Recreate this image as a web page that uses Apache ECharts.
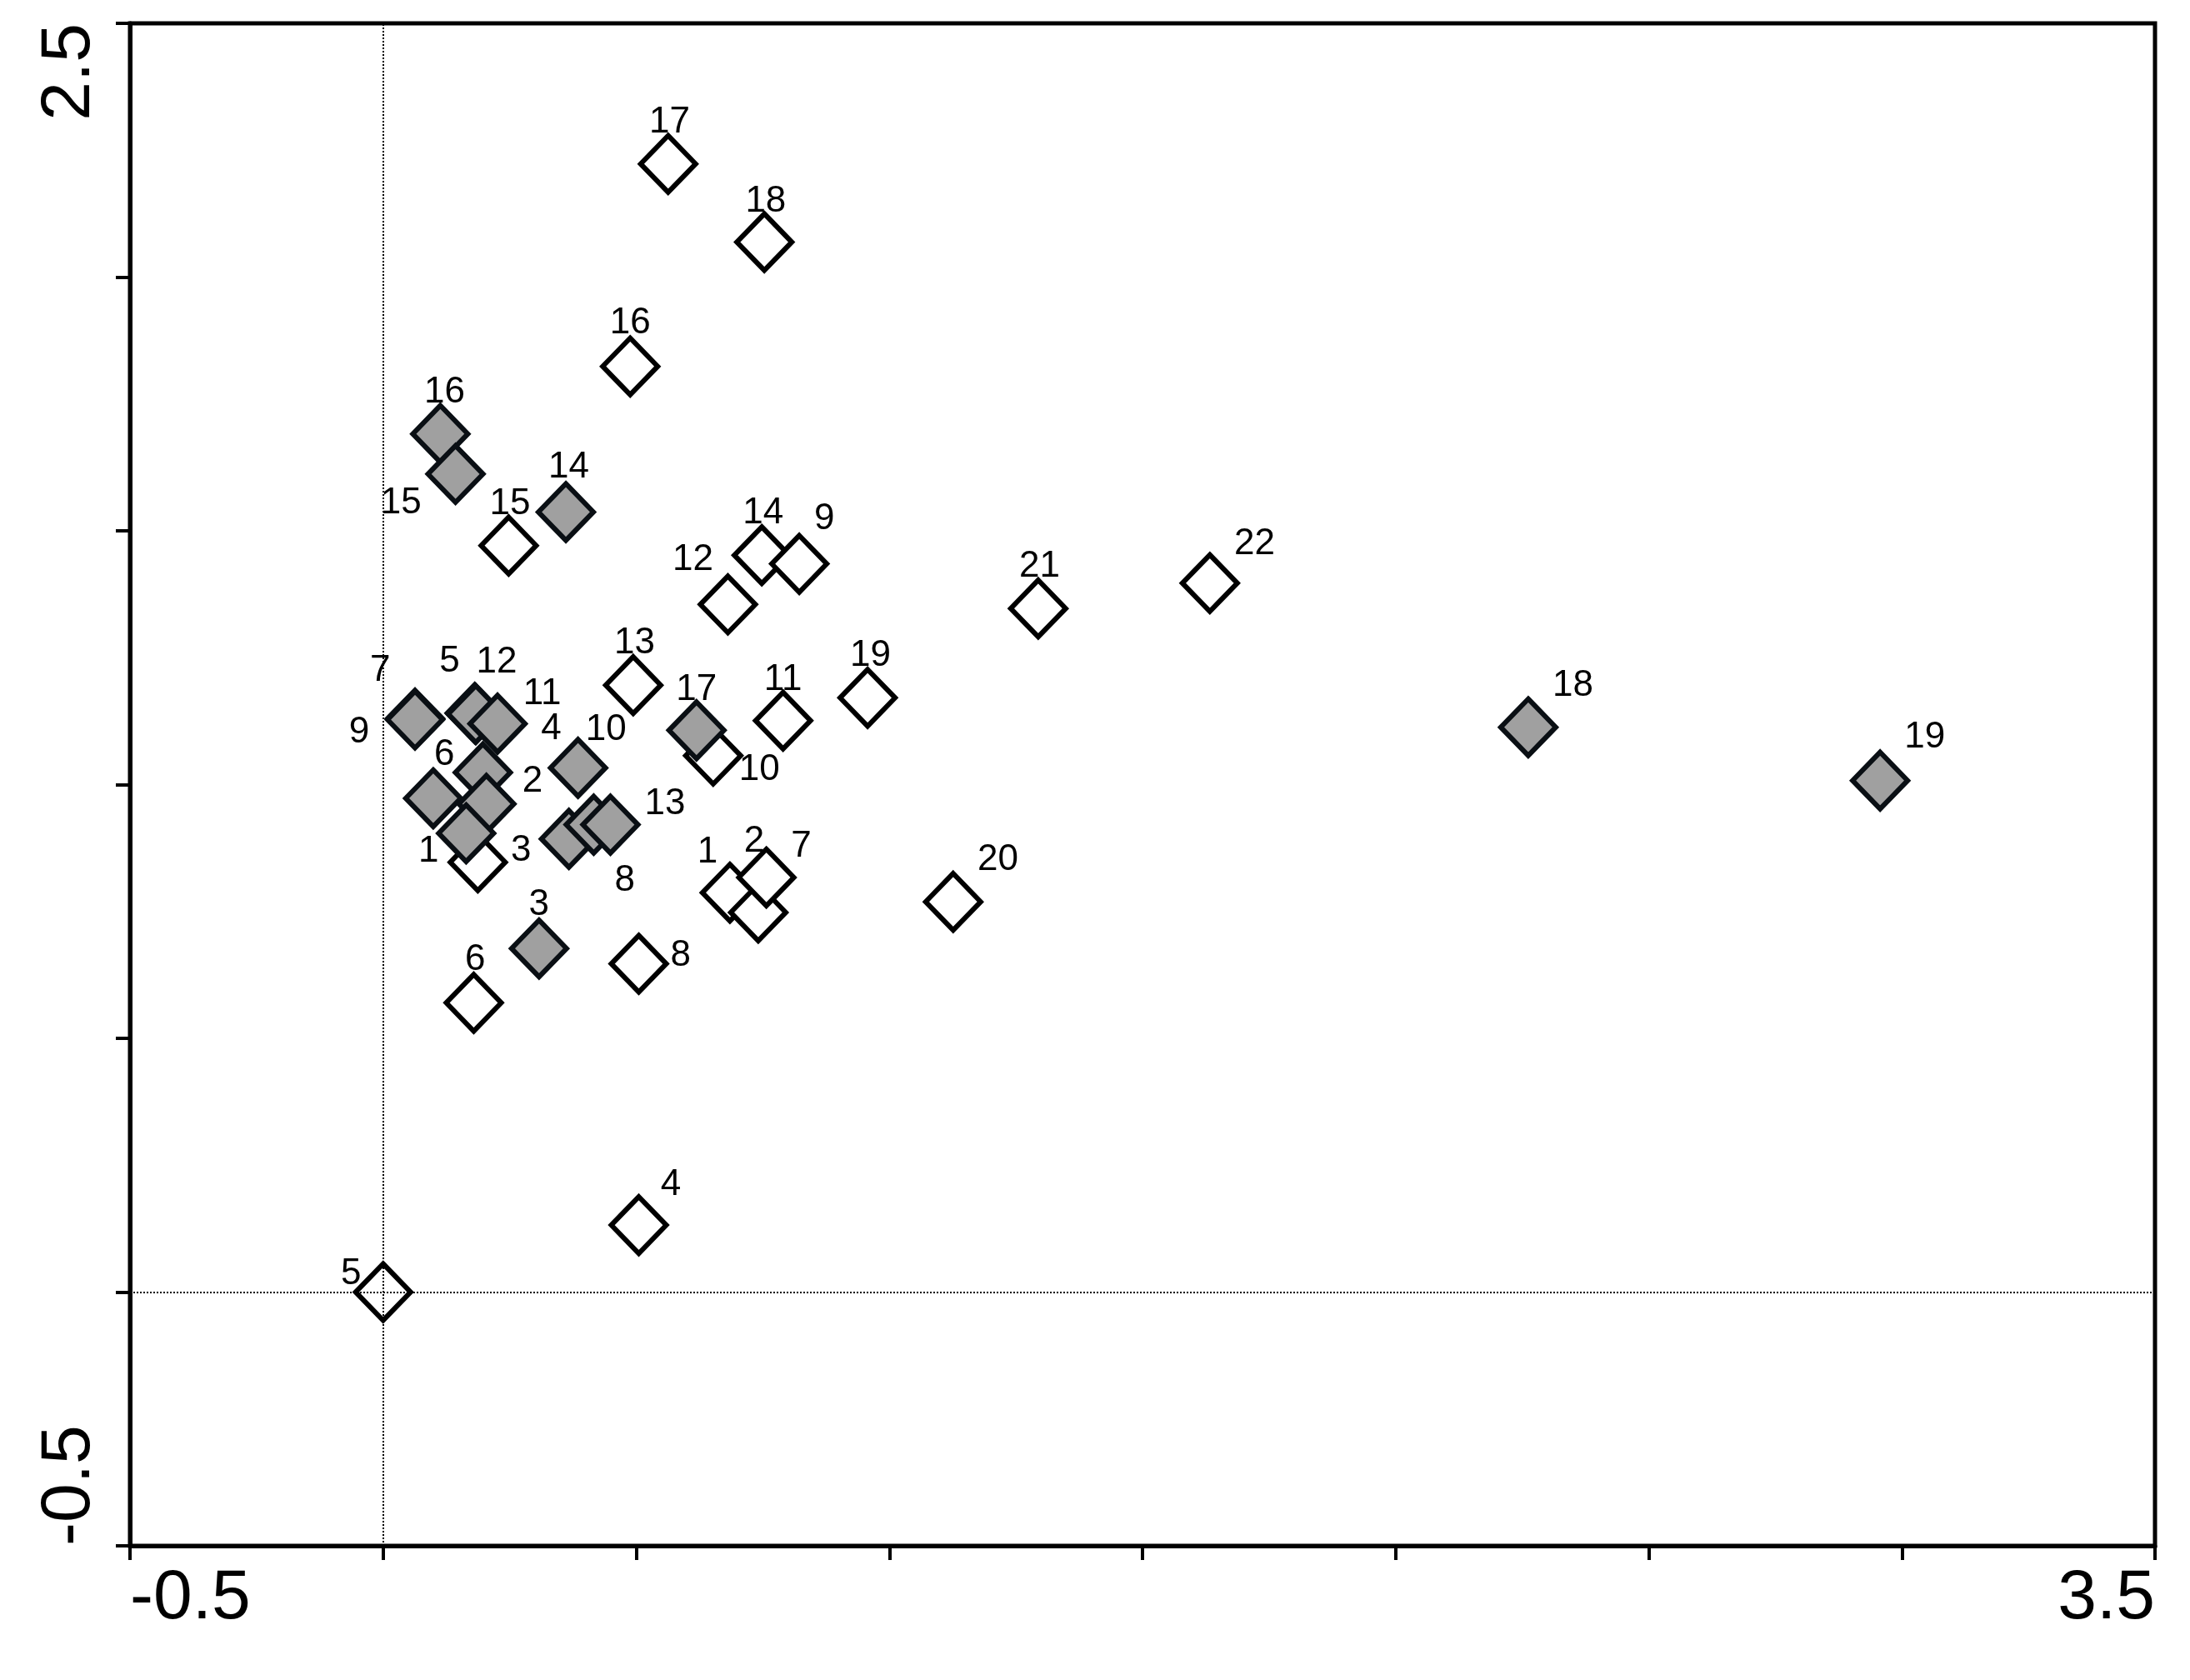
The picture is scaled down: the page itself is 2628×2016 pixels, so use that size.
<!DOCTYPE html>
<html>
<head>
<meta charset="utf-8">
<script src="https://cdn.jsdelivr.net/npm/echarts@6/dist/echarts.min.js"></script>
<style>html,body{margin:0;padding:0;background:#fff}#chart{width:2628px;height:2016px}</style>
</head>
<body>
<div id="chart"></div>
<script>
// open diamonds
var openLabels = ['17','18','16','15','14','9','12','21','22','13','19','11','10','1','2','7','20','8','6','4','5','3'];
var openX = [0.563,0.753,0.488,0.248,0.748,0.822,0.681,1.294,1.633,0.494,0.957,0.790,0.652,0.685,0.741,0.757,1.126,0.505,0.179,0.505,0.0,0.187];
var openY = [2.223,2.069,1.824,1.471,1.452,1.435,1.355,1.347,1.397,1.196,1.171,1.126,1.057,0.787,0.748,0.817,0.769,0.647,0.570,0.132,0.0,0.847];
// filled (grey) diamonds
var greyLabels = ['16','15','14','7','9','5','12','11','4','10','6','2','1','3','8','','13','17','18','19'];
var greyX = [0.113,0.143,0.361,0.063,0.063,0.181,0.183,0.226,0.197,0.385,0.099,0.204,0.164,0.308,0.367,0.416,0.449,0.619,2.262,2.957];
var greyY = [1.691,1.612,1.537,1.130,1.128,1.141,1.139,1.120,1.024,1.033,0.973,0.962,0.904,0.677,0.893,0.921,0.921,1.107,1.113,1.008];

// label offsets (reference px, scaled below)
var openOff = [[1,-30],[1,-29],[0,-31],[1,-30],[1,-30],[18,-32],[-25,-32],[1,-30],[32,-28],[1,-30],[2,-30],[0,-29],[33,10],[-16,-29],[-3,-51],[25,-22],[32,-30],[30,-6],[1,-31],[23,-29],[-23,-13],[31,-8]];
var greyOff = [[3,-30],[-39,21],[2,-32],[-25,-34],[-40,9],[-18,-37],[15,-37],[32,-21],[49,-31],[20,-27],[8,-31],[33,-16],[-27,13],[0,-31],[40,30],[0,0],[39,-15],[0,-29],[32,-30],[32,-31]];

var S = 1.676;
function build(xs, ys, labs, offs) {
    return xs.map(function (x, i) {
        return {
            value: [x, ys[i]],
            label: {
                show: labs[i] !== '',
                formatter: labs[i],
                position: 'inside',
                offset: [offs[i][0] * S, offs[i][1] * S]
            }
        };
    });
}

var labelStyle = {
    color: '#000', fontSize: 44, fontFamily: 'Liberation Sans, Arial',
    align: 'center', verticalAlign: 'middle'
};

var myChart = echarts.init(document.getElementById('chart'));
myChart.setOption({
    animation: false,
    backgroundColor: '#fff',
    grid: {
        left: 156, right: 42, top: 28, bottom: 161,
        show: true, borderColor: '#000', borderWidth: 5
    },
    xAxis: {
        type: 'value', min: -0.5, max: 3.5, interval: 0.5,
        splitLine: { show: false },
        axisLine: { onZero: false, lineStyle: { color: '#000', width: 5 } },
        axisTick: { show: true, length: 17, lineStyle: { color: '#000', width: 4 } },
        axisLabel: {
            color: '#000', fontSize: 84, fontFamily: 'Liberation Sans, Arial', margin: 22,
            formatter: function (v) { return (v === -0.5 || v === 3.5) ? String(v) : ''; },
            alignMinLabel: 'left', alignMaxLabel: 'right'
        }
    },
    yAxis: {
        type: 'value', min: -0.5, max: 2.5, interval: 0.5,
        splitLine: { show: false },
        axisLine: { onZero: false, lineStyle: { color: '#000', width: 5 } },
        axisTick: { show: true, length: 17, lineStyle: { color: '#000', width: 4 } },
        axisLabel: {
            color: '#000', fontSize: 84, fontFamily: 'Liberation Sans, Arial', margin: 30,
            rotate: 90,
            formatter: function (v) { return (v === -0.5 || v === 2.5) ? String(v) : ''; },
            alignMinLabel: 'left', alignMaxLabel: 'right'
        }
    },
    series: [{
        type: 'scatter',
        symbol: 'diamond',
        symbolSize: [66, 68],
        itemStyle: { color: '#fff', borderColor: '#000', borderWidth: 6, opacity: 1 },
        label: labelStyle,
        data: build(openX, openY, openLabels, openOff),
        markLine: {
            silent: true, symbol: 'none', label: { show: false },
            lineStyle: { color: '#000', type: 'dotted', width: 2 },
            data: [{ xAxis: 0 }, { yAxis: 0 }]
        },
        z: 2
    }, {
        type: 'scatter',
        symbol: 'diamond',
        symbolSize: [66, 68],
        itemStyle: { color: '#a0a0a0', borderColor: '#0a0f14', borderWidth: 6, opacity: 1 },
        label: labelStyle,
        data: build(greyX, greyY, greyLabels, greyOff),
        z: 3
    }]
});
</script>
</body>
</html>
